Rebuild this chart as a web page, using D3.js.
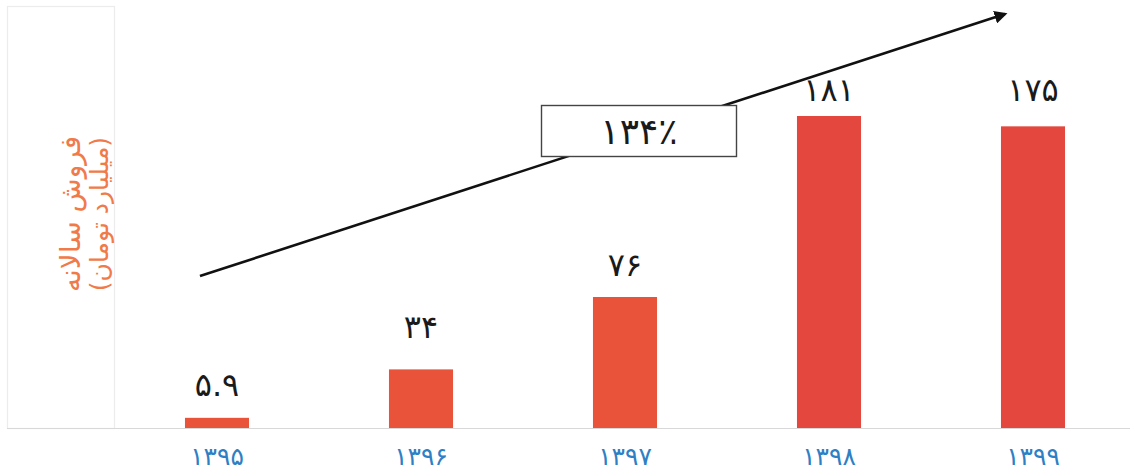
<!DOCTYPE html>
<html><head><meta charset="utf-8">
<script src="https://cdn.jsdelivr.net/npm/d3@7"></script>
<style>body{margin:0;background:#fff}svg{display:block}</style>
</head><body><svg id="c" width="1130" height="472"></svg>
<script>
const categories = ["۱۳۹۵","۱۳۹۶","۱۳۹۷","۱۳۹۸","۱۳۹۹"];
const values = [5.9, 34, 76, 181, 175];
const valueLabels = ["۵.۹","۳۴","۷۶","۱۸۱","۱۷۵"];
const growthLabel = "۱۳۴٪";
const yTitle = ["فروش سالانه","(میلیارد تومان)"];

const svg = d3.select("#c");
const font = "'DejaVu Sans', sans-serif";
const x = d3.scaleBand().domain(categories).range([115, 1135]).paddingInner(0.686).paddingOuter(0.343);
const y = d3.scaleLinear().domain([0, 181]).range([428, 116]);

// faint frame around y title
svg.append("rect").attr("x",7.5).attr("y",6.5).attr("width",107).attr("height",422)
  .attr("fill","none").attr("stroke","#ececec").attr("stroke-width",1.2);

// baseline
svg.append("line").attr("x1",7).attr("x2",1130).attr("y1",y(0)+0.5).attr("y2",y(0)+0.5)
  .attr("stroke","#d8d8d8").attr("stroke-width",1);

svg.selectAll("rect.bar").data(values).join("rect").attr("class","bar")
  .attr("x",(d,i)=>x(categories[i])).attr("width",x.bandwidth())
  .attr("y",d=>y(d)).attr("height",d=>y(0)-y(d))
  .attr("fill",(d,i)=> i>=3 ? "#e4473d" : "#e9533a");

const labelY = [396, 338, 276, 101, 101];
svg.selectAll("text.val").data(values).join("text").attr("class","val")
  .attr("x",(d,i)=>x(categories[i])+x.bandwidth()/2)
  .attr("y",(d,i)=>Math.min(y(d)-15, labelY[i]))
  .attr("text-anchor","middle").attr("font-family",font).attr("font-size",32)
  .attr("fill","#1a1a1a").text((d,i)=>valueLabels[i]);

const xAxis = svg.append("g").attr("transform",`translate(0,${y(0)})`)
  .call(d3.axisBottom(x).tickSize(0).tickPadding(19));
xAxis.select(".domain").remove();
xAxis.selectAll("text").attr("font-family",font).attr("font-size",25).attr("fill","#2f7fc4");

// y title
const yt = svg.append("text").attr("transform","translate(84,214) rotate(-90)")
  .attr("text-anchor","middle").attr("font-family",font).attr("fill","#f07a4a");
yt.append("tspan").attr("x",0).attr("dy",-4).attr("font-size",28).text(yTitle[0]);
yt.append("tspan").attr("x",0).attr("dy",28).attr("font-size",25).text(yTitle[1]);

// arrow
const defs = svg.append("defs");
defs.append("marker").attr("id","ah").attr("viewBox","0 0 10 10").attr("refX",8).attr("refY",5)
  .attr("markerWidth",5).attr("markerHeight",5).attr("orient","auto")
  .append("path").attr("d","M0,0 L10,5 L0,10 z").attr("fill","#111");
const ax0 = x(categories[0]) + 15, ax1 = x(categories[4]) + 4;
svg.append("line").attr("x1",ax0).attr("y1",276).attr("x2",ax1).attr("y2",14)
  .attr("stroke","#111").attr("stroke-width",2.6).attr("marker-end","url(#ah)");

// growth box
svg.append("rect").attr("x",541.5).attr("y",105.5).attr("width",195).attr("height",51)
  .attr("fill","#fff").attr("stroke","#444").attr("stroke-width",1.4);
svg.append("text").attr("x",639).attr("y",144).attr("text-anchor","middle")
  .attr("font-family",font).attr("font-size",36).attr("fill","#1a1a1a").text(growthLabel);
</script></body></html>
